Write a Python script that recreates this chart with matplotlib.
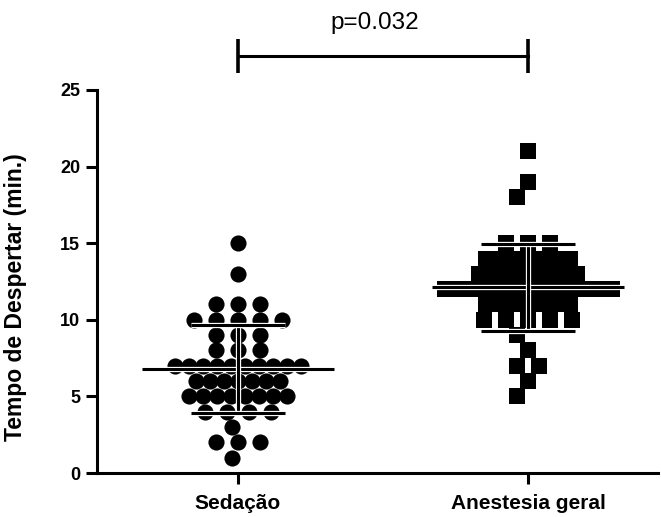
import matplotlib
matplotlib.use("Agg")
import matplotlib.pyplot as plt
import matplotlib.patheffects as pe
import numpy as np

plt.rcParams['font.family'] = ['Liberation Sans', 'DejaVu Sans']

# tempo de despertar (min.) de cada doente
sedacao = [15, 13, 11, 11, 11, 10, 10, 10, 10, 10, 9, 9, 9, 8, 8, 8,
           7, 7, 7, 7, 7, 7, 7, 7, 7, 7, 6, 6, 6, 6, 6, 6, 6,
           5, 5, 5, 5, 5, 5, 5, 5, 4, 4, 4, 4, 3, 2, 2, 2, 1]
anestesia = [21, 19, 18, 15, 15, 15, 14, 14, 14, 14, 14, 14, 14,
             13, 13, 13, 13, 13, 13, 13, 13,
             12, 12, 12, 12, 12, 12, 12, 12, 12, 12, 12, 12, 12,
             11, 11, 11, 11, 11, 11, 11, 10, 10, 10, 10, 10,
             9, 8, 7, 7, 6, 5]

groups = [sedacao, anestesia]
group_names = ["Sedação", "Anestesia geral"]
markers = ["o", "s"]
p_text = "p=0.032"
y_ticks = [0, 5, 10, 15, 20, 25]


def row_offsets(values, gap, wide=0.076, tight=0.048, limit=0.33):
    # espalha horizontalmente os pontos com o mesmo valor
    values = np.asarray(values)
    xs = np.zeros(len(values))
    rows = {}
    for v in np.unique(values):
        rows[v] = np.where(values == v)[0]
    placed = {}
    # linhas cheias primeiro, centradas
    for v, idx in rows.items():
        n = len(idx)
        if n < 3:
            continue
        step = wide if (n - 1) * wide <= limit else tight
        pos = (np.arange(n) - (n - 1) / 2) * step
        xs[idx] = pos
        placed[v] = pos
    # linhas com 1 ou 2 pontos: desvia se tocar nas linhas vizinhas
    for v in sorted(rows, reverse=True):
        idx = rows[v]
        n = len(idx)
        if n >= 3:
            continue
        base = (np.arange(n) - (n - 1) / 2) * wide
        near = np.concatenate([placed.get(v - 1, []), placed.get(v + 1, [])])
        for k in [0, -1, 1, -2, 2, -3, 3, -4, 4, -5, 5, -6, 6]:
            pos = base + k * wide / 4
            if len(near) == 0 or np.min(np.abs(pos[:, None] - near[None, :])) >= gap:
                break
        xs[idx] = pos
        placed[v] = pos
    return xs


fig = plt.figure(figsize=(6.61, 5.17), dpi=100)
ax = fig.add_axes([97 / 661, 44 / 517, 561 / 661, 383 / 517])

halo = [pe.Stroke(linewidth=3.8, foreground="white"), pe.Normal()]
gaps = [0.016, 0.028]

for i, vals in enumerate(groups):
    xs = i + row_offsets(vals, gaps[i])
    ax.scatter(xs, vals, s=135, marker=markers[i], color="black",
               linewidths=0, zorder=2, clip_on=False)
    m = np.mean(vals)
    sd = np.std(vals, ddof=1)
    ax.plot([i - 0.33, i + 0.33], [m, m], color="black", lw=2.2,
            solid_capstyle="butt", zorder=3, path_effects=halo)
    ax.plot([i, i], [m - sd, m + sd], color="black", lw=2.2,
            solid_capstyle="butt", zorder=3, path_effects=halo)
    for yy in (m - sd, m + sd):
        ax.plot([i - 0.163, i + 0.163], [yy, yy], color="black", lw=2.2,
                solid_capstyle="butt", zorder=3, path_effects=halo)

# barra de significancia
bar_y = 27.2
ax.plot([0, 1], [bar_y, bar_y], color="black", lw=2.2, clip_on=False)
for xx in (0, 1):
    ax.plot([xx, xx], [bar_y - 1.1, bar_y + 1.1], color="black", lw=2.6,
            clip_on=False, solid_capstyle="butt")
ax.text(0.47, bar_y + 1.45, p_text, ha="center", va="bottom", fontsize=17.5)

ax.set_xlim(-0.486, 1.448)
ax.set_ylim(0, 25)
ax.set_yticks(y_ticks)
ax.set_xticks([0, 1])
ax.set_xticklabels(group_names, fontsize=15, fontweight="bold")
for lab in ax.get_yticklabels():
    lab.set_fontsize(13)
    lab.set_fontweight("bold")

ax.spines["top"].set_visible(False)
ax.spines["right"].set_visible(False)
ax.spines["left"].set_linewidth(2.2)
ax.spines["bottom"].set_linewidth(2.2)
ax.tick_params(axis="both", length=8, width=2.2, color="black")
ax.tick_params(axis="y", pad=4)
ax.tick_params(axis="x", pad=7)

ax.set_ylabel("Tempo de Despertar (min.)", fontsize=16.5, fontweight="bold")
ax.yaxis.set_label_coords(-0.125, 0.46)

fig.savefig("out.png", dpi=100)
